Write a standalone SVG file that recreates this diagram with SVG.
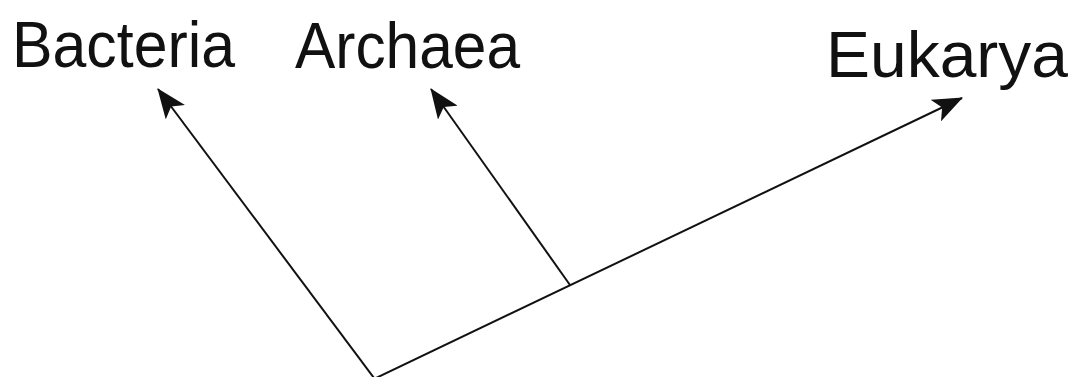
<svg xmlns="http://www.w3.org/2000/svg" width="1078" height="377" viewBox="0 0 1078 377">
<style>
.lbl{font-family:"Liberation Sans",Arial,sans-serif;font-size:64px;fill:#111;font-weight:normal}
.edge{stroke:#111;stroke-width:2;fill:none}
</style>
<defs>
<marker id="ah" viewBox="0 0 30 24" refX="29" refY="12" markerWidth="30" markerHeight="24" markerUnits="userSpaceOnUse" orient="auto">
<path d="M0,0 L30,12 L0,24 L7,12 Z" fill="#111"/>
</marker>
</defs>
<rect width="1078" height="377" fill="#fff"/>
<g id="connectors">
<line class="edge" x1="374" y1="378" x2="158" y2="89" marker-end="url(#ah)"/>
<line class="edge" x1="570" y1="285" x2="431" y2="89" marker-end="url(#ah)"/>
<line class="edge" x1="376" y1="378" x2="962" y2="98" marker-end="url(#ah)"/>
</g>
<g id="bacteria"><text class="lbl" x="12" y="67" textLength="223" lengthAdjust="spacingAndGlyphs">Bacteria</text></g>
<g id="archaea"><text class="lbl" x="295" y="68" textLength="225" lengthAdjust="spacingAndGlyphs">Archaea</text></g>
<g id="eukarya"><text class="lbl" x="826" y="77" textLength="242" lengthAdjust="spacingAndGlyphs">Eukarya</text></g>
</svg>
